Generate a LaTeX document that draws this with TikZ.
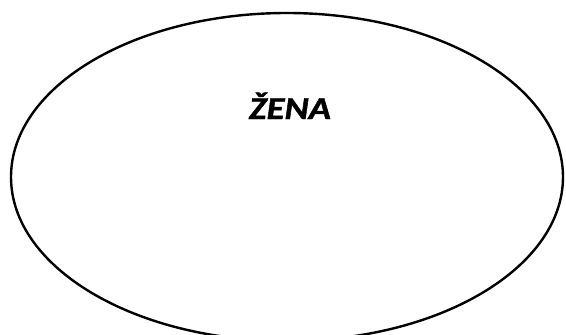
\documentclass[tikz,border=0pt]{standalone}
\usepackage{fontspec}
\usetikzlibrary{shapes.geometric}
\setmainfont{Carlito}[BoldItalicFeatures={FakeBold=1.2}]
\begin{document}
\begin{tikzpicture}[x=1pt,y=-1pt,
  oval/.style={draw=black,line width=2.4pt,ellipse,minimum width=552pt,minimum height=328pt,inner sep=0pt},
  lbl/.style={font=\fontsize{32}{34}\selectfont\bfseries\itshape,anchor=base,inner sep=0pt,xscale=1.15}]
\useasboundingbox (0,0) rectangle (566,335);
\node[oval] (e) at (287,177) {};
\node[lbl] (t) at (290,119) {ŽENA};
\end{tikzpicture}
\end{document}
